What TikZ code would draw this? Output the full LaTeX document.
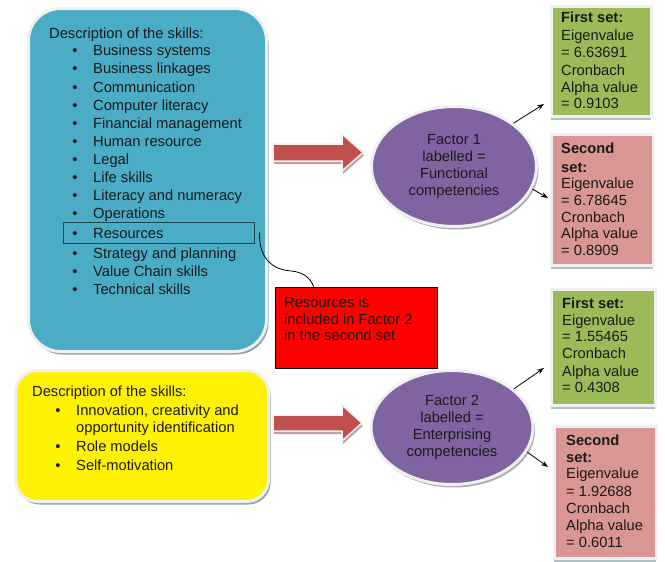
\documentclass[tikz,border=0pt]{standalone}
\usepackage{fontspec}
\setmainfont{Liberation Sans}
\usetikzlibrary{arrows.meta,shapes.geometric,shadows,calc}
\definecolor{skyb}{HTML}{4BACC6}
\definecolor{purp}{HTML}{8064A2}
\definecolor{grn}{RGB}{155,187,89}
\definecolor{pnk}{RGB}{217,150,148}
\definecolor{arr}{HTML}{C0504D}
\definecolor{arrsh}{RGB}{195,160,160}
\definecolor{bord}{HTML}{F0F0F0}
\definecolor{shd}{RGB}{140,165,175}
\definecolor{eshd}{RGB}{175,170,185}
\definecolor{resc}{RGB}{30,70,80}
\definecolor{txtc}{HTML}{1A1A1A}
\begin{document}
\begin{tikzpicture}[x=1pt,y=-1pt,
  txt/.style={font=\fontsize{14.7}{17.6}\selectfont, text=txtc, inner sep=0pt, anchor=base west},
  bigbox/.style={draw=bord, line width=3pt, inner sep=0pt,
     general shadow={fill=shd, shadow xshift=2pt, shadow yshift=-3pt}},
  setbox/.style={draw=bord, line width=3pt, inner sep=0pt,
     general shadow={fill=shd!70, shadow xshift=-1pt, shadow yshift=-3pt}},
  factor/.style={ellipse, fill=purp, draw=bord, line width=3pt, inner sep=0pt, align=center,
     font=\fontsize{14.7}{17}\selectfont, text=txtc,
     general shadow={fill=eshd, shadow xshift=2pt, shadow yshift=-3pt}},
  conn/.style={-{Stealth[length=7pt,width=5pt]}, line width=0.8pt, black}
]
\useasboundingbox (0,0) rectangle (665,562);

% ---------- big boxes
\node[bigbox, fill=skyb, rounded corners=32pt, minimum width=238pt, minimum height=343pt] (blue) at (147.5,180) {};
\node[bigbox, fill=yellow, rounded corners=22pt, minimum width=253pt, minimum height=131pt] (yel) at (142,436) {};

% ---------- block arrows
\fill[arrsh] (274,147) -- (343,147) -- (343,137) -- (364,155.5) -- (343,174) -- (343,164) -- (274,164) -- cycle;
\filldraw[fill=arr, draw=bord, line width=1.5pt] (273,144) -- (342,144) -- (342,134) -- (363,152.5) -- (342,171) -- (342,161) -- (273,161) -- cycle;
\fill[arrsh] (274,418) -- (343,418) -- (343,408) -- (363,426) -- (343,444) -- (343,434) -- (274,434) -- cycle;
\filldraw[fill=arr, draw=bord, line width=1.5pt] (273,415) -- (342,415) -- (342,405) -- (362,423) -- (342,441) -- (342,431) -- (273,431) -- cycle;

% ---------- factor ellipses
\node[factor, minimum width=165pt, minimum height=120pt] (e1) at (454,166.5) {Factor 1\\labelled =\\Functional\\competencies};
\node[factor, minimum width=162pt, minimum height=114pt] (e2) at (452,427.5) {Factor 2\\labelled =\\Enterprising\\competencies};

% ---------- result boxes
\node[setbox, fill=grn, minimum width=100pt, minimum height=110pt] (g1) at (601.5,61.5) {};
\node[setbox, fill=pnk, minimum width=102pt, minimum height=131pt] (p1) at (602.5,200) {};
\node[setbox, fill=grn, minimum width=104pt, minimum height=116pt] (g2) at (603.5,347.5) {};
\node[setbox, fill=pnk, minimum width=102pt, minimum height=132pt] (p2) at (605.5,492.5) {};

% ---------- red note box
\node[draw=black, line width=0.8pt, fill=red, minimum width=162pt, minimum height=81pt, inner sep=0pt] (redbox) at (356,327.5) {};

% ---------- Resources highlight
\node[draw=resc, line width=0.8pt, minimum width=191pt, minimum height=21pt, inner sep=0pt] (resbox) at (158.5,232.5) {};

% ---------- callout curve
\coordinate (cs) at ($(resbox.east)+(5,0)$);
\coordinate (ce) at ($(redbox.north west)+(39,0)$);
\draw[line width=0.8pt, black] (cs) .. controls (259,262) and (276,270) .. (291,271) .. controls (304,272) and (311,279) .. (ce);

% ---------- connectors to result boxes
\draw[conn] (e1.36) -- ($(g1.south west)+(-6,-14)$);
\draw[conn] (e1.-16) -- ($(p1.north west)+(-2,65)$);
\draw[conn] (e2.32) -- ($(g2.south west)+(-6,-39)$);
\draw[conn] (e2.-18) -- ($(p2.north west)+(-5,42)$);

% ---------- blue box text
\node[txt] (bt) at (49,38) {Description of the skills:};
\foreach \y/\t [count=\i] in {51/Business systems,69/Business linkages,87/Communication,105/Computer literacy,123/Financial management,141/Human resource,159/Legal,177/Life skills,195/Literacy and numeracy,213/Operations,233/Resources,253/Strategy and planning,271/Value Chain skills,289/Technical skills}{
  \node[txt] (bi\i) at (93,\y+5) {\t};
  \node[txt, anchor=base] (bb\i) at (75,\y+5) {\textbullet};
}

% ---------- yellow box text
\node[txt] (yt) at (32,396) {Description of the skills:};
\node[txt] (yi1) at (76,415) {Innovation, creativity and};
\node[txt] (yi1b) at (76,432) {opportunity identification};
\node[txt] (yi2) at (76,451) {Role models};
\node[txt] (yi3) at (76,470) {Self-motivation};
\node[txt, anchor=base] (yb1) at (58,415) {\textbullet};
\node[txt, anchor=base] (yb2) at (58,451) {\textbullet};
\node[txt, anchor=base] (yb3) at (58,470) {\textbullet};

% ---------- red box text
\node[txt] (r1) at (284,307) {Resources is};
\node[txt] (r2) at (284,324) {included in Factor 2};
\node[txt] (r3) at (284,340) {in the second set};

% ---------- result texts
\foreach \y/\t [count=\i] in {18/\textbf{First set:},35/Eigenvalue,52/= 6.63691,70/Cronbach,87/Alpha value,103/= 0.9103}
  \node[txt] (ga\i) at (561,\y+5) {\t};
\foreach \y/\t [count=\i] in {148/\textbf{Second},167/\textbf{set:},183/Eigenvalue,200/= 6.78645,217/Cronbach,233/Alpha value,250/= 0.8909}
  \node[txt] (pa\i) at (561,\y+5) {\t};
\foreach \y/\t [count=\i] in {303/\textbf{First set:},320/Eigenvalue,336/= 1.55465,353/Cronbach,371/Alpha value,387/= 0.4308}
  \node[txt] (gb\i) at (562,\y+5) {\t};
\foreach \y/\t [count=\i] in {440/\textbf{Second},457/\textbf{set:},473/Eigenvalue,491/= 1.92688,508/Cronbach,525/Alpha value,542/= 0.6011}
  \node[txt] (pb\i) at (566,\y+5) {\t};
\end{tikzpicture}
\end{document}
